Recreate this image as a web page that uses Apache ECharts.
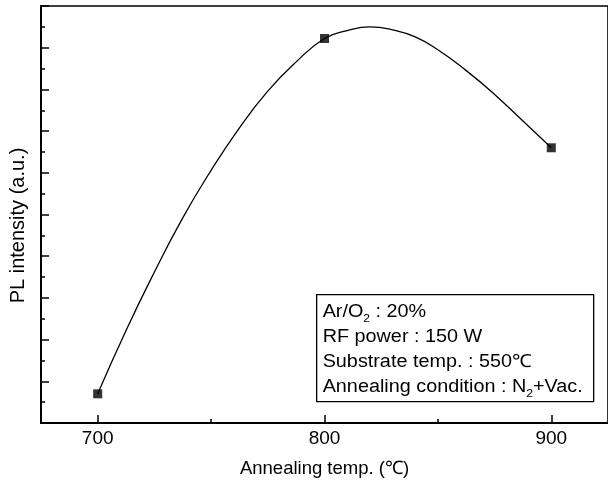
<!DOCTYPE html>
<html>
<head>
<meta charset="utf-8">
<script src="https://cdn.jsdelivr.net/npm/echarts@6/dist/echarts.min.js"></script>
<style>html,body{margin:0;padding:0;background:#fff;}#c{width:608px;height:488px;}</style>
</head>
<body>
<div id="c"></div>
<script>
// Measured points
const tempX = [700, 800, 900];
const plY = [0.70, 9.22, 6.6];
// Guide curve
const curveX = [700, 712.5, 725, 737.5, 750, 762.5, 775, 787.5, 800, 810, 820, 830, 840, 850, 862.5, 875, 887.5, 900];
const curveY = [0.70, 2.22, 3.62, 4.92, 6.06, 7.08, 7.96, 8.66, 9.22, 9.41, 9.50, 9.43, 9.26, 8.95, 8.45, 7.88, 7.24, 6.6];
const xMajorTicks = [700, 800, 900];
const xMinorTicks = [750, 850];
const boxLines = [
  ['Ar/O', '2', ' : 20%'],
  ['RF power : 150 W', '', ''],
  ['Substrate temp. : 550℃', '', ''],
  ['Annealing condition : N', '2', '+Vac.']
];

const FONT = '"Liberation Sans", Arial, Helvetica, sans-serif';
const chart = echarts.init(document.getElementById('c'), null, {renderer: 'canvas'});

const boxText = boxLines.map(l => l[0] + (l[1] ? '{sub|' + l[1] + '}' : '') + l[2]).join('\n');

chart.setOption({
  animation: false,
  grid: {left: 41, right: -5, top: 6, bottom: 65, show: true, borderColor: '#000', borderWidth: 1.6, containLabel: false},
  xAxis: [{
    type: 'value', min: 675, max: 925, interval: 25,
    axisLine: {show: true, lineStyle: {color: '#000', width: 2}},
    axisTick: {show: true, inside: true, length: 8, customValues: xMajorTicks, lineStyle: {color: '#000', width: 1.5}},
    axisLabel: {show: true, customValues: xMajorTicks, color: '#000', fontSize: 19, fontFamily: FONT, margin: 6},
    splitLine: {show: false},
    name: 'Annealing temp. (℃)', nameLocation: 'middle', nameGap: 36,
    nameTextStyle: {color: '#000', fontSize: 18.5, fontFamily: FONT}
  }, {
    type: 'value', min: 675, max: 925, interval: 25, position: 'bottom',
    axisLine: {show: false},
    axisTick: {show: true, inside: true, length: 4, customValues: xMinorTicks, lineStyle: {color: '#000', width: 1.5}},
    axisLabel: {show: false},
    splitLine: {show: false}
  }],
  yAxis: {
    type: 'value', min: 0, max: 10, interval: 1,
    axisLine: {show: true, lineStyle: {color: '#000', width: 2}},
    axisTick: {show: true, inside: true, length: 8, lineStyle: {color: '#000', width: 1.5}},
    minorTick: {show: true, splitNumber: 2, length: 4, lineStyle: {color: '#000', width: 1.5}},
    axisLabel: {show: false},
    splitLine: {show: false},
    name: 'PL intensity (a.u.)', nameLocation: 'middle', nameGap: 13,
    nameTextStyle: {color: '#000', fontSize: 20, fontFamily: FONT, padding: [0, 22, 0, 0]}
  },
  series: [{
    type: 'line', smooth: 0.5, symbol: 'none',
    data: curveX.map((x, i) => [x, curveY[i]]),
    lineStyle: {color: '#000', width: 1.3}, z: 2
  }, {
    type: 'scatter', symbol: 'rect', symbolSize: 9,
    data: tempX.map((x, i) => [x, plY[i]]),
    itemStyle: {color: '#000'}, z: 3
  }],
  graphic: [{
    type: 'group', left: 316, top: 294,
    children: [{
      type: 'rect', shape: {x: 0, y: 0, width: 277, height: 107},
      style: {fill: '#fff', stroke: '#000', lineWidth: 1.3}
    }, {
      type: 'text', x: 6, y: 5, scaleX: 1.1,
      style: {
        text: boxText, fill: '#000', font: '18px ' + FONT, lineHeight: 25,
        rich: {sub: {fontSize: 11, lineHeight: 11, verticalAlign: 'bottom', fontFamily: FONT}}
      }
    }]
  }]
});
</script>
</body>
</html>
